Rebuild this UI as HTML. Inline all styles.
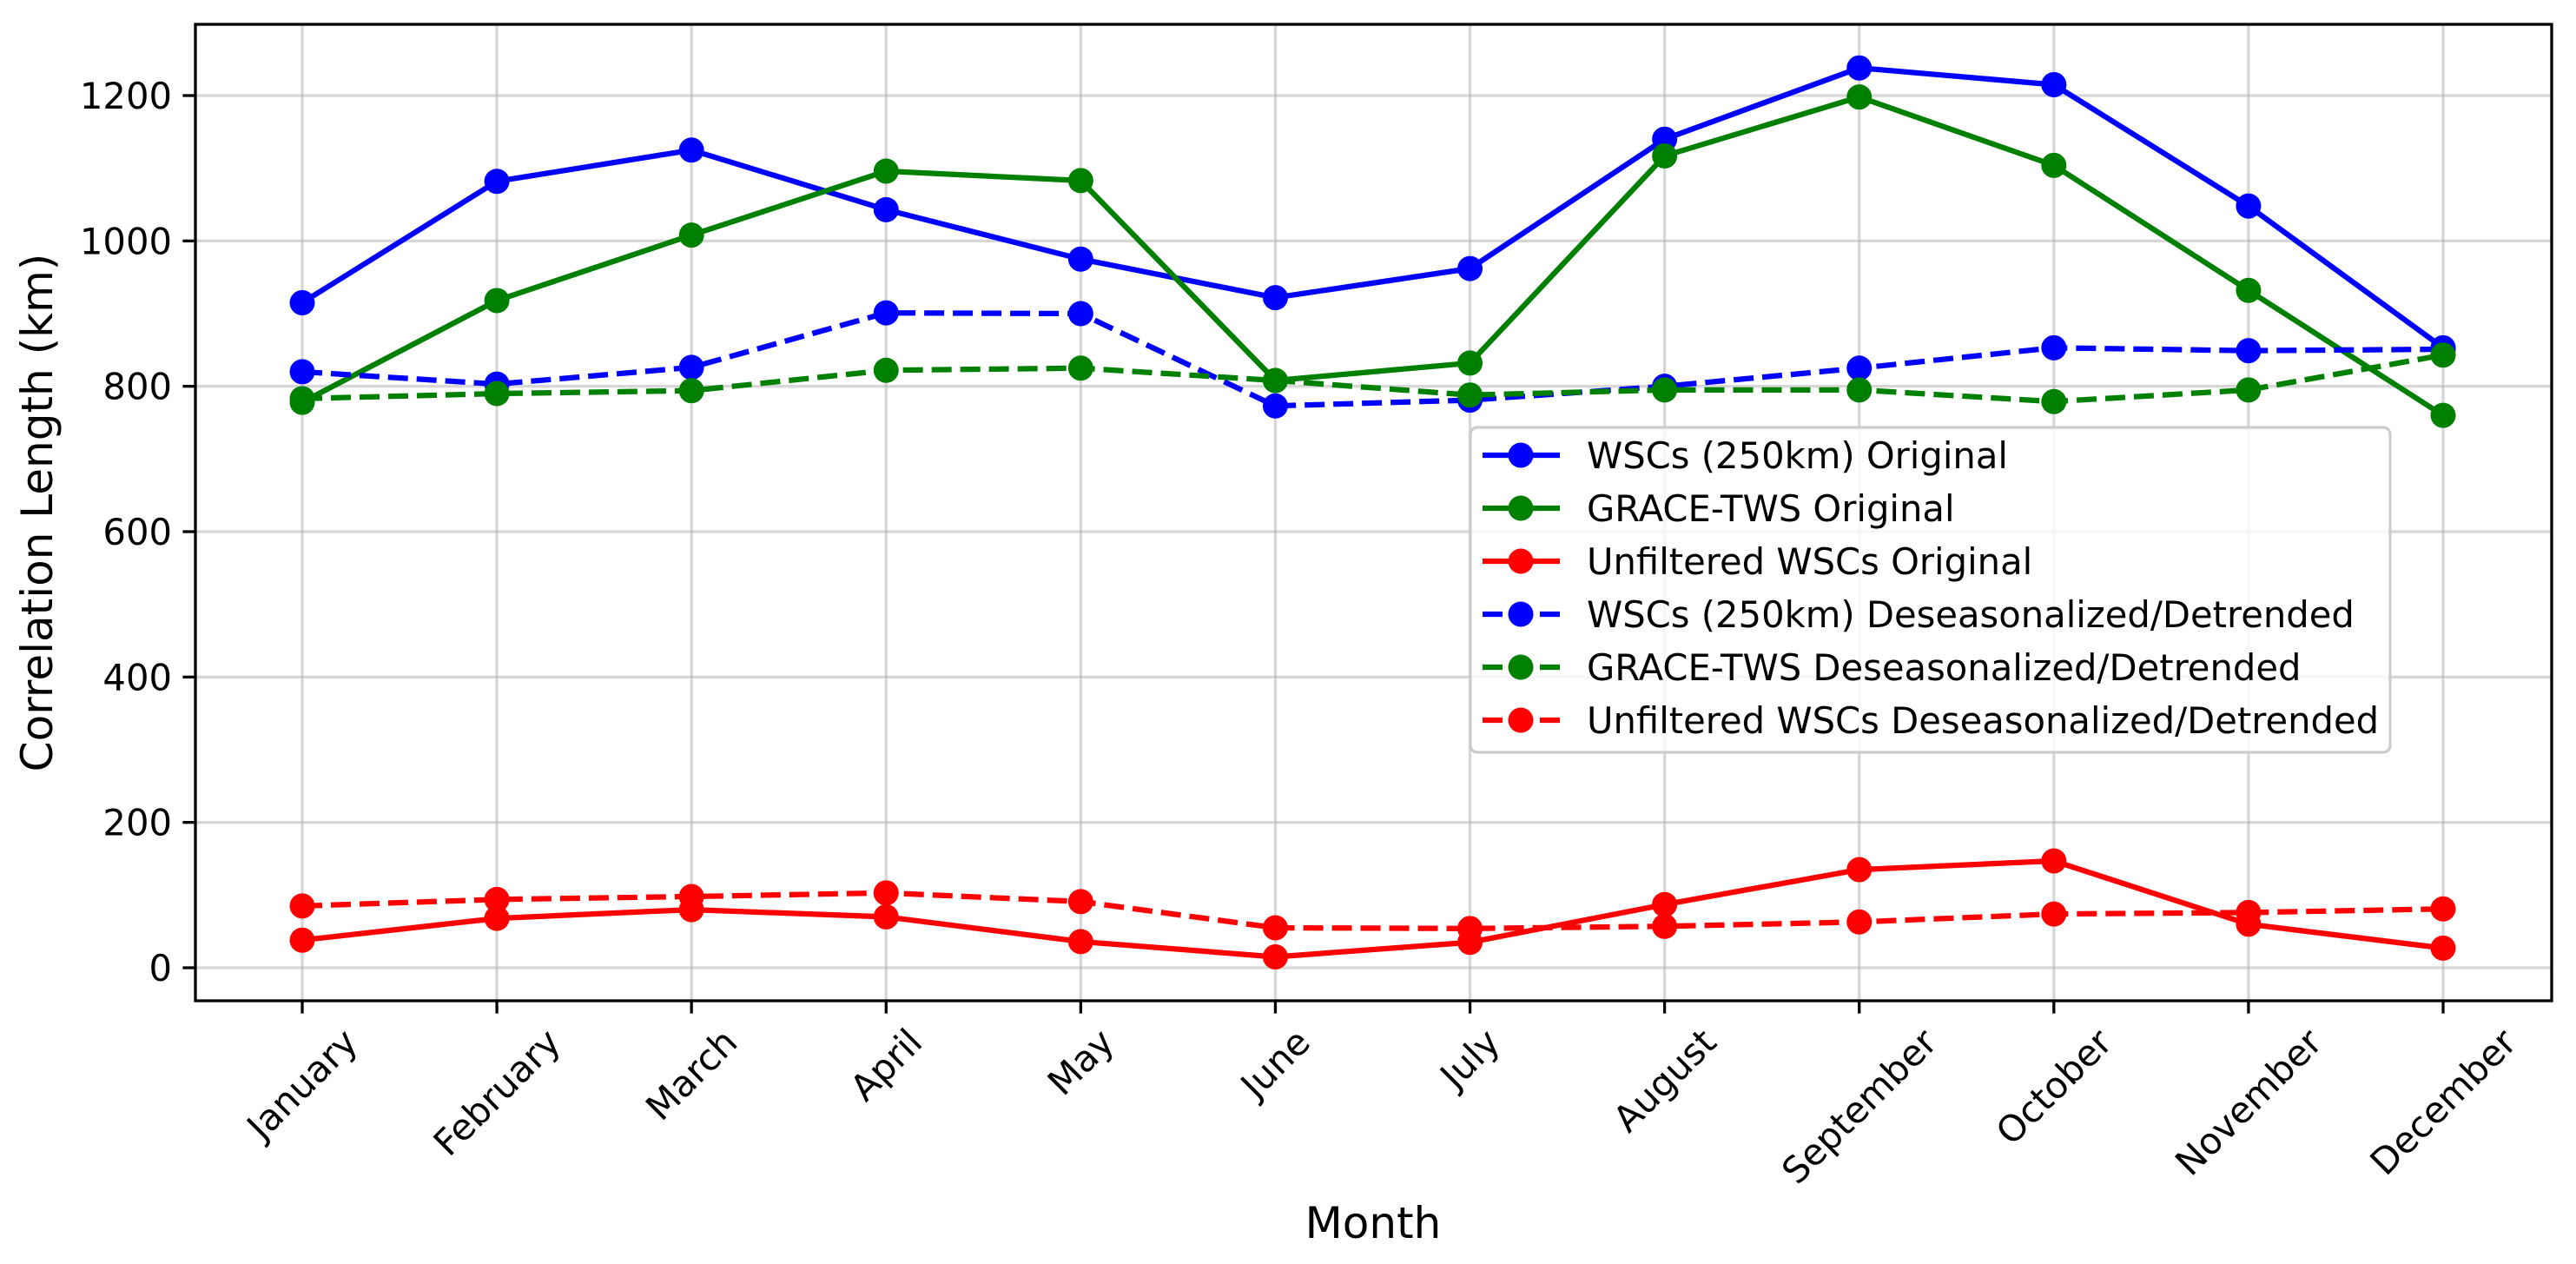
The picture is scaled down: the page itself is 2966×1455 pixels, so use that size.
<!DOCTYPE html>
<html><head><meta charset="utf-8"><style>
html,body{margin:0;padding:0;background:#fff}
svg{display:block;font-family:"DejaVu Sans","Liberation Sans",sans-serif}
</style></head><body>
<svg id="chart" width="2966" height="1455" viewBox="0 0 2966 1455">
<g id="grid"></g>
<g id="series"></g>
<rect x="225" y="28" width="2713" height="1124" fill="none" stroke="#000" stroke-width="3.3"/>
<g id="axes"></g>
<text x="1581" y="1425" font-size="50" text-anchor="middle">Month</text>
<text transform="translate(60,590) rotate(-90)" font-size="50" text-anchor="middle">Correlation Length (km)</text>
<g id="legend"></g>
</svg>
<script>
const months = ["January","February","March","April","May","June","July","August","September","October","November","December"];
const yTicks = [0,200,400,600,800,1000,1200];
const wscOrig = [915,1082,1125,1043,975,922,962,1140,1238,1215,1048,853];
const graceOrig = [778,918,1008,1096,1083,808,832,1117,1198,1104,932,760];
const unfOrig = [38,68,80,70,36,15,35,87,135,147,60,27];
const wscDes = [820,803,826,901,900,773,781,800,825,853,849,851];
const graceDes = [783,790,794,822,825,808,788,795,795,779,795,843];
const unfDes = [85,94,98,103,91,55,54,57,63,74,76,81];
const seriesNames = ["WSCs (250km) Original","GRACE-TWS Original","Unfiltered WSCs Original","WSCs (250km) Deseasonalized/Detrended","GRACE-TWS Deseasonalized/Detrended","Unfiltered WSCs Deseasonalized/Detrended"];

const NS="http://www.w3.org/2000/svg";
const L=225,R=2938,T=28,B=1152;
const x0=348,x1=2813;
const MR=14.5;
function xs(i){return x0+(x1-x0)*i/(months.length-1);}
function ys(v){return 1114-v*(1114-110)/1200;}
function mk(tag,attrs,parent){const e=document.createElementNS(NS,tag);for(const k in attrs)e.setAttribute(k,attrs[k]);parent.appendChild(e);return e;}
const grid=document.getElementById('grid'),axes=document.getElementById('axes'),ser=document.getElementById('series'),leg=document.getElementById('legend');

months.forEach((m,i)=>{
  const x=xs(i);
  const g=mk('line',{x1:x,x2:x,y1:T,y2:B,stroke:'#b0b0b0','stroke-opacity':0.5,'stroke-width':3.3},grid);
  
  
  const t=mk('line',{x1:x,x2:x,y1:B,y2:B+14.6,stroke:'#000','stroke-width':3.3},axes);
  
  
  const tx=mk('text',{'font-size':41.7,'text-anchor':'middle','dominant-baseline':'central'},axes);
  tx.textContent=m;
  
  
  const len=tx.getComputedTextLength(),h=41.7*0.75;
  const cy=B+29+(len+h)/(2*Math.SQRT2);
  tx.setAttribute('transform','translate('+x+','+cy+') rotate(-45)');
});
yTicks.forEach(v=>{
  const y=ys(v);
  const g=mk('line',{x1:L,x2:R,y1:y,y2:y,stroke:'#b0b0b0','stroke-opacity':0.5,'stroke-width':3.3},grid);
  
  
  const t=mk('line',{x1:L-14.6,x2:L,y1:y,y2:y,stroke:'#000','stroke-width':3.3},axes);
  
  
  const tx=mk('text',{x:L-27,y:y+15,'font-size':41.7,'text-anchor':'end'},axes);
  tx.textContent=v;
  
  
});

const allData=[wscOrig,graceOrig,unfOrig,wscDes,graceDes,unfDes];
const colors=['#0000ff','#008000','#ff0000','#0000ff','#008000','#ff0000'];
const dashed=[false,false,false,true,true,true];
const keys=['wsc-original','grace-original','unfiltered-original','wsc-deseasonalized','grace-deseasonalized','unfiltered-deseasonalized'];
allData.forEach((d,s)=>{
  const g=mk('g',{},ser);
  
  
  const pts=d.map((v,i)=>xs(i)+','+ys(v)).join(' ');
  const pl=mk('polyline',{points:pts,fill:'none',stroke:colors[s],'stroke-width':6.25,'stroke-linejoin':'round'},g);
  if(dashed[s])pl.setAttribute('stroke-dasharray','23 10');
  
  
  d.forEach((v,i)=>{
    const c=mk('circle',{cx:xs(i),cy:ys(v),r:MR,fill:colors[s]},g);
    
    
  });
});

mk('rect',{x:1693,y:492,width:1059,height:374,rx:8,fill:'#fff','fill-opacity':0.8,stroke:'#cccccc','stroke-width':3.3},leg);
seriesNames.forEach((n,s)=>{
  const y=524+s*61;
  const e=mk('g',{},leg);
  
  
  const l=mk('line',{x1:1707,x2:1796,y1:y,y2:y,stroke:colors[s],'stroke-width':6.25},e);
  if(dashed[s])l.setAttribute('stroke-dasharray','23 10');
  mk('circle',{cx:1751,cy:y,r:MR,fill:colors[s]},e);
  const t=mk('text',{x:1827,y:y+15,'font-size':41.7},e);
  t.textContent=n;
});
</script>
</body></html>
